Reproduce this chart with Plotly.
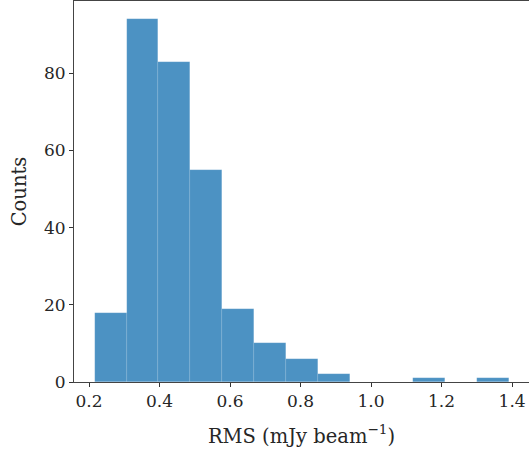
import plotly.graph_objects as go

bin_edges = [0.2162, 0.3066, 0.3969, 0.4873, 0.5776, 0.6680, 0.7583, 0.8487,
             0.9390, 1.0294, 1.1197, 1.2101, 1.3004, 1.3907]
counts = [18, 94, 83, 55, 19, 10, 6, 2, 0, 0, 1, 0, 1]
x_ticks = [0.2, 0.4, 0.6, 0.8, 1.0, 1.2, 1.4]
x_tick_labels = ["0.2", "0.4", "0.6", "0.8", "1.0", "1.2", "1.4"]
y_ticks = [0, 20, 40, 60, 80]

centers = [(a + b) / 2 for a, b in zip(bin_edges[:-1], bin_edges[1:])]
widths = [b - a for a, b in zip(bin_edges[:-1], bin_edges[1:])]

font = "DejaVu Serif"
fig = go.Figure(go.Bar(
    x=centers, y=counts, width=widths,
    marker=dict(color="rgba(31,119,180,0.8)", line=dict(width=0.5, color="rgba(255,255,255,0.2)")),
))

fig.update_layout(
    width=529, height=455,
    margin=dict(l=74, r=0, t=1, b=73),
    paper_bgcolor="white", plot_bgcolor="white",
    showlegend=False, bargap=0,
    font=dict(family=font, color="#262626"),
)
fig.update_xaxes(
    range=[0.1574, 1.448], tickvals=x_ticks, ticktext=x_tick_labels,
    ticks="outside", ticklen=4, tickcolor="#333", tickwidth=1,
    showline=True, linecolor="#444", linewidth=1, mirror=True,
    showgrid=False, zeroline=False, tickfont=dict(size=17, family=font),
    title=dict(text="RMS (mJy beam<sup>−1</sup>)", font=dict(size=19.5, family=font), standoff=18),
)
fig.update_yaxes(
    range=[0, 98.7], tickvals=y_ticks,
    ticks="outside", ticklen=4, tickcolor="#333", tickwidth=1,
    showline=True, linecolor="#444", linewidth=1,
    showgrid=False, zeroline=False, tickfont=dict(size=17, family=font),
    title=dict(text="Counts", font=dict(size=19.5, family=font), standoff=12),
)
fig.write_html("out.html")
